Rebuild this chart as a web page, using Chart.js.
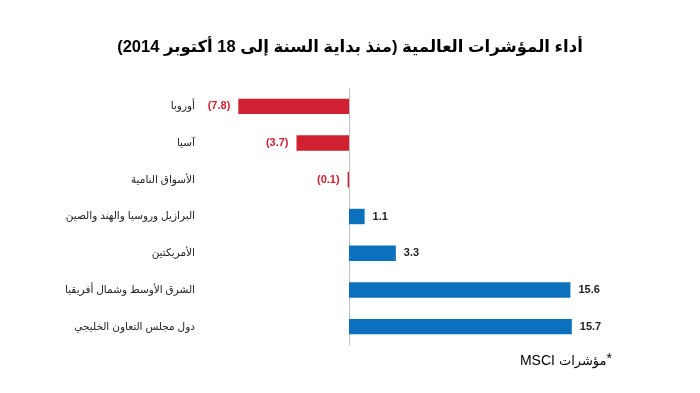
<!DOCTYPE html>
<html>
<head>
<meta charset="utf-8">
<script src="https://cdn.jsdelivr.net/npm/chart.js@4.4.1/dist/chart.umd.min.js"></script>
<style>
  html, body { margin: 0; padding: 0; background: #fff; }
  #wrap { width: 700px; height: 393px; position: relative; }
</style>
</head>
<body>
<div id="wrap"><canvas id="perf"></canvas></div>
<script>
const categories = [
    "أوروبا",
    "آسيا",
    "الأسواق النامية",
    "البرازيل وروسيا والهند والصين",
    "الأمريكتين",
    "الشرق الأوسط وشمال أفريقيا",
    "دول مجلس التعاون الخليجي"
];
const values = [-7.8, -3.7, -0.1, 1.1, 3.3, 15.6, 15.7];

const titleText = "أداء المؤشرات العالمية (منذ بداية السنة إلى 18 أكتوبر 2014)";
// footnote pieces, drawn from the right edge leftwards: "*", "مؤشرات", "MSCI"
const noteParts = ["*", "مؤشرات", "MSCI"];

const RED = "#CF2131";
const BLUE = "#0B70BE";
const FONT = "Arial, 'DejaVu Sans', sans-serif";

const extras = {
    id: "extras",
    beforeDatasetsDraw(chart) {
        const { ctx, chartArea, scales } = chart;
        const x0 = Math.round(scales.x.getPixelForValue(0)) + 0.5;
        ctx.save();
        ctx.strokeStyle = "#bfbfbf";
        ctx.lineWidth = 1;
        ctx.beginPath();
        ctx.moveTo(x0, chartArea.top);
        ctx.lineTo(x0, chartArea.bottom);
        ctx.stroke();
        ctx.restore();
    },
    afterDatasetsDraw(chart) {
        const { ctx } = chart;
        const meta = chart.getDatasetMeta(0);
        ctx.save();
        ctx.font = "bold 11px " + FONT;
        ctx.textBaseline = "middle";
        meta.data.forEach((bar, i) => {
            const v = values[i];
            if (v < 0) {
                ctx.fillStyle = RED;
                ctx.textAlign = "right";
                ctx.fillText("(" + Math.abs(v).toFixed(1) + ")", bar.x - 8, bar.y);
            } else {
                ctx.fillStyle = "#222";
                ctx.textAlign = "left";
                ctx.fillText(v.toFixed(1), bar.x + 8, bar.y);
            }
        });

        // title
        ctx.fillStyle = "#000";
        ctx.font = "bold 16.5px " + FONT;
        ctx.direction = "rtl";
        ctx.textAlign = "center";
        ctx.fillText(titleText, 350, 47);

        // footnote
        ctx.direction = "ltr";
        ctx.textAlign = "right";
        let x = 612;
        noteParts.forEach((p, i) => {
            ctx.font = (i === 1 ? "13px " : "14px ") + FONT;
            ctx.fillText(p, x, i === 0 ? 359 : 361);
            x -= ctx.measureText(p).width + (i === 1 ? 4 : 0);
        });
        ctx.restore();
    }
};

new Chart(document.getElementById("perf"), {
    type: "bar",
    data: {
        labels: categories,
        datasets: [{
            data: values,
            backgroundColor: values.map(v => v < 0 ? RED : BLUE),
            barPercentage: 0.42,
            categoryPercentage: 1
        }]
    },
    options: {
        indexAxis: "y",
        responsive: true,
        maintainAspectRatio: false,
        animation: false,
        layout: { padding: { top: 88, bottom: 48, left: 0, right: 70 } },
        plugins: {
            legend: { display: false },
            tooltip: { enabled: false }
        },
        scales: {
            x: {
                display: false,
                min: -10.5,
                max: 19.8
            },
            y: {
                afterFit: s => { s.width = 200; },
                grid: { display: false, drawTicks: false },
                border: { display: false },
                ticks: {
                    padding: 5,
                    color: "#222",
                    font: { family: FONT, size: 10.5 }
                }
            }
        }
    },
    plugins: [extras]
});
</script>
</body>
</html>
